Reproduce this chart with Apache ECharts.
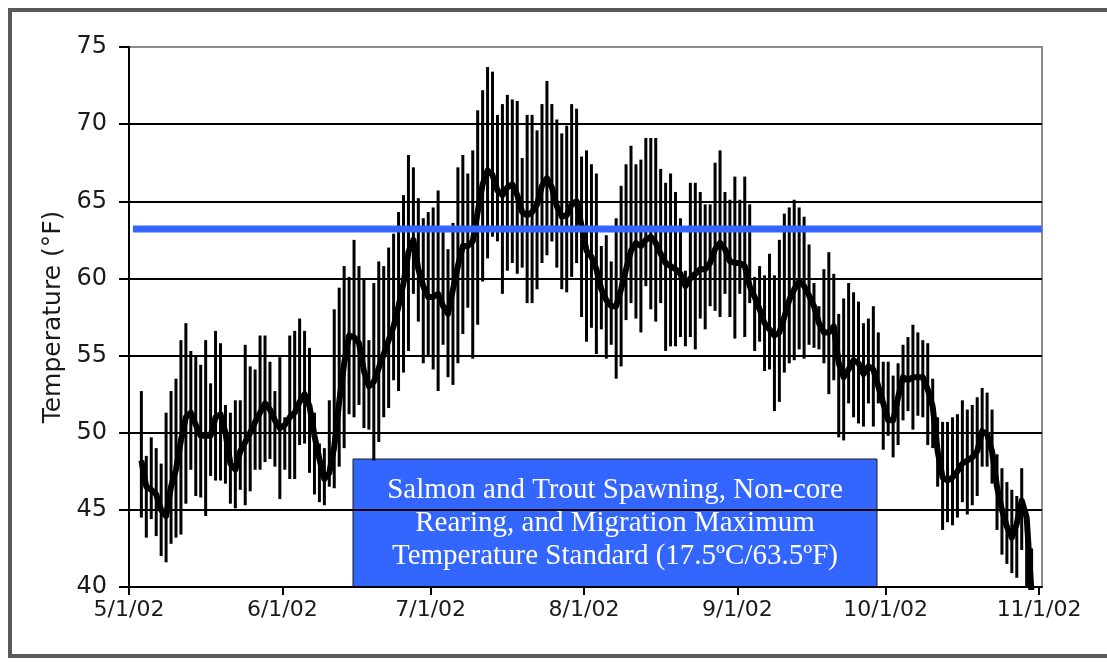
<!DOCTYPE html>
<html>
<head>
<meta charset="utf-8">
<script src="https://cdn.jsdelivr.net/npm/echarts@6/dist/echarts.min.js"></script>
<style>
html,body{margin:0;padding:0;background:#fff;}
#chart{width:1107px;height:662px;}
</style>
</head>
<body>
<div id="chart"></div>
<script>
// ---- data (°F), one value per day starting 5/3/02 ----
const firstObsDate = '2002-05-03';
const axisStartDate = '2002-05-01';
const axisEndDate = '2002-11-01';
const tickLabels = ['5/1/02','6/1/02','7/1/02','8/1/02','9/1/02','10/1/02','11/1/02'];
const yTicks = [40,45,50,55,60,65,70,75];
const standardValue = 63.2; // drawn position of the 17.5°C/63.5°F standard line
const standardText = ['Salmon and Trout Spawning, Non-core','Rearing, and Migration Maximum','Temperature Standard (17.5ºC/63.5ºF)'];
const yAxisTitle = 'Temperature (°F)';

const dailyMax = [
52.7,48.5,49.7,49.0,48.0,51.3,52.7,53.5,56.0,57.1,
55.3,55.0,54.4,56.0,53.2,56.6,55.8,51.8,51.3,52.1,
52.1,55.7,54.3,54.1,56.3,56.3,54.6,52.7,54.9,51.0,
56.3,56.6,57.4,56.6,55.5,51.3,49.3,49.0,52.1,58.0,
59.4,60.8,60.1,62.5,60.8,59.9,56.0,59.7,61.1,60.8,
62.0,62.9,64.3,65.4,68.0,67.2,65.2,63.9,64.3,64.6,
65.7,63.0,61.9,63.6,67.2,68.0,66.8,68.3,70.9,72.2,
73.7,73.4,70.6,71.3,71.9,71.6,71.5,67.8,70.6,70.6,
69.6,71.3,72.8,71.3,70.3,69.4,69.9,71.3,71.0,67.9,
68.3,67.4,66.8,62.1,62.8,61.1,63.9,66.0,67.4,68.6,
67.4,67.7,69.1,69.1,69.1,67.1,66.2,66.8,65.6,63.9,
60.5,66.2,66.2,65.6,64.8,64.8,67.5,68.3,65.6,65.1,
66.6,65.1,66.6,64.8,60.1,60.8,60.2,61.6,60.2,62.5,
64.2,64.6,65.1,64.6,64.0,62.2,59.7,58.2,60.6,61.7,
60.3,57.7,58.7,59.7,59.1,58.5,57.1,57.4,58.2,56.5,
54.6,54.6,53.7,54.5,55.7,56.2,57.0,56.5,56.0,55.8,
53.5,51.0,50.7,50.7,51.0,51.2,52.1,51.5,51.8,52.3,
52.9,52.6,51.5,48.6,47.7,46.8,46.3,45.9,47.7,45.0,
42.5];
const dailyMin = [
44.5,43.2,44.4,43.3,42.0,41.6,42.8,43.2,43.4,45.4,
47.6,45.9,45.8,44.6,47.2,46.9,46.9,46.7,45.4,45.1,
46.3,45.3,46.2,47.6,47.6,48.1,48.3,47.8,45.7,47.6,
47.0,47.0,49.2,49.3,47.4,46.0,45.5,45.3,46.5,46.4,
47.8,49.0,51.2,51.0,51.8,50.3,50.2,48.2,49.4,51.0,
51.6,53.4,52.7,53.9,55.3,59.0,57.2,54.5,54.9,54.1,
52.7,55.7,53.6,53.1,54.5,56.4,58.1,54.8,57.0,59.8,
61.3,62.7,62.4,59.0,60.5,61.0,60.3,60.7,58.4,58.4,
59.3,61.0,61.5,62.4,60.7,59.3,59.1,60.1,61.0,57.5,
55.9,56.8,55.1,56.7,54.8,55.7,53.5,54.3,57.3,58.4,
57.4,56.5,59.5,58.0,57.2,58.4,55.3,55.6,55.6,56.2,
55.6,56.2,55.4,57.4,56.7,58.2,57.9,57.5,59.0,57.5,
56.1,59.0,56.2,58.4,55.3,55.9,54.0,54.1,51.4,52.0,
53.9,54.5,54.7,55.4,54.8,55.7,55.5,55.4,54.5,52.5,
53.4,49.7,49.5,51.9,51.0,50.6,50.4,51.9,50.4,51.9,
48.9,49.8,48.4,49.2,50.8,51.4,50.2,51.1,51.0,49.2,
49.0,46.5,43.7,44.2,44.0,44.5,45.5,44.7,45.3,45.9,
47.8,47.8,46.7,43.7,42.1,41.5,40.9,40.6,42.4,39.8,
38.5];
const dailyMean = [
48.2,46.5,46.3,46.0,45.0,44.6,46.5,47.6,49.5,51.0,
51.3,50.5,49.8,49.8,49.8,51.0,51.2,50.0,48.0,47.6,
48.8,49.4,50.0,50.7,51.3,51.9,51.5,50.8,50.3,50.5,
51.0,51.3,52.0,52.5,51.7,49.8,48.3,47.0,47.4,49.1,
52.0,54.5,56.3,56.2,55.8,54.0,53.0,53.3,54.2,55.1,
56.0,56.9,58.2,59.7,61.7,62.5,60.6,59.5,58.8,58.8,
59.0,58.2,57.7,59.3,60.8,62.1,62.1,62.4,64.3,66.1,
67.0,66.7,65.7,65.4,65.9,66.1,65.4,64.3,64.1,64.3,
64.8,66.0,66.5,65.9,64.7,64.0,64.1,64.8,65.0,63.4,
61.8,61.4,60.6,59.3,58.6,58.2,58.2,59.3,60.6,61.8,
62.3,62.1,62.5,62.7,62.3,61.6,61.0,60.8,60.6,60.3,
59.5,60.0,60.3,60.6,60.6,61.0,61.9,62.3,61.9,61.1,
61.0,61.0,60.8,59.5,58.8,58.0,57.1,56.7,56.3,56.5,
57.5,58.6,59.3,59.8,59.5,58.9,58.2,57.1,56.5,56.5,
56.9,54.5,53.6,54.1,54.7,54.5,53.8,54.3,54.1,53.0,
51.9,50.8,50.8,52.3,53.6,53.4,53.6,53.6,53.6,52.8,
51.7,48.8,47.1,46.9,47.1,47.5,48.0,48.2,48.4,48.8,
50.1,49.9,48.8,46.5,45.0,43.9,43.2,44.1,45.6,44.5,
39.5];

// ---- derived ----
const DAY = 86400000;
const t0 = Date.parse(axisStartDate + 'T00:00:00Z');
const dayOf = s => (Date.parse(s + 'T00:00:00Z') - t0) / DAY;
const labelToIso = l => { const p = l.split('/'); return '20' + p[2] + '-' + p[0].padStart(2,'0') + '-' + p[1].padStart(2,'0'); };
const tickDays = tickLabels.map(l => dayOf(labelToIso(l)));
const firstDay = dayOf(firstObsDate) + 0.5; // plotted at the middle of each day
const rangeData = dailyMax.map((mx, i) => [firstDay + i, dailyMin[i], mx]);
const meanData = dailyMean.map((v, i) => [firstDay + i, v]);
const xMax = dayOf(axisEndDate) + 0.6;

const chart = echarts.init(document.getElementById('chart'), null, {renderer: 'canvas'});
const axisFont = 'DejaVu Sans';

chart.setOption({
  animation: false,
  backgroundColor: '#fff',
  grid: {left: 129, top: 47, right: 1107 - 1042, bottom: 662 - 587, show: true,
         borderColor: '#8c8c8c', borderWidth: 2, backgroundColor: 'transparent'},
  xAxis: {
    type: 'value', min: 0, max: xMax,
    axisLine: {show: true, onZero: false, lineStyle: {color: '#000', width: 2}},
    axisTick: {show: true, length: 8, lineStyle: {color: '#000', width: 2}, customValues: tickDays},
    axisLabel: {show: true, customValues: tickDays, margin: 12, fontFamily: axisFont, fontSize: 22, color: '#1a1a1a',
      formatter: v => { const k = tickDays.findIndex(d => Math.abs(d - v) < 0.01); return k >= 0 ? tickLabels[k] : ''; }},
    splitLine: {show: false}
  },
  yAxis: {
    type: 'value', min: yTicks[0], max: yTicks[yTicks.length - 1], interval: 5,
    name: yAxisTitle, nameLocation: 'middle', nameRotate: 90, nameGap: 62,
    nameTextStyle: {fontFamily: axisFont, fontSize: 25, color: '#1a1a1a'},
    axisLine: {show: true, lineStyle: {color: '#000', width: 2}},
    axisTick: {show: true, length: 10, lineStyle: {color: '#000', width: 2}},
    axisLabel: {margin: 22, fontFamily: axisFont, fontSize: 24, color: '#1a1a1a'},
    splitLine: {show: true, showMinLine: false, showMaxLine: false, lineStyle: {color: '#000', width: 2}}
  },
  series: [
    {
      type: 'custom', name: 'Daily range', clip: true, z: 2,
      data: rangeData,
      renderItem: (params, api) => {
        const a = api.coord([api.value(0), api.value(1)]);
        const b = api.coord([api.value(0), api.value(2)]);
        return {type: 'line', shape: {x1: a[0], y1: a[1], x2: b[0], y2: b[1]},
                style: {stroke: '#000', lineWidth: 3}};
      }
    },
    {
      type: 'line', name: 'Daily mean', data: meanData, showSymbol: false, symbol: 'none',
      clip: true, z: 3, lineStyle: {color: '#000', width: 6, join: 'round'}
    },
    {
      type: 'line', name: 'Standard', data: [[0.8, standardValue], [xMax, standardValue]],
      showSymbol: false, symbol: 'none', z: 4, lineStyle: {color: '#3366ff', width: 7}
    }
  ],
  graphic: [
    {type: 'rect', z: 100, shape: {x: 10, y: 10, width: 1120, height: 646},
     style: {fill: 'none', stroke: '#5a5a5a', lineWidth: 4}},
    {type: 'group', z: 100, children: [
      {type: 'rect', shape: {x: 353, y: 459, width: 524, height: 128},
       style: {fill: '#3366ff', stroke: '#1a1a1a', lineWidth: 1}},
      {type: 'text', x: 615, y: 523,
       style: {text: standardText.join('\n'), fill: '#fff', font: '29px "Liberation Serif"',
               align: 'center', verticalAlign: 'middle', lineHeight: 33}}
    ]}
  ]
});
</script>
</body>
</html>
